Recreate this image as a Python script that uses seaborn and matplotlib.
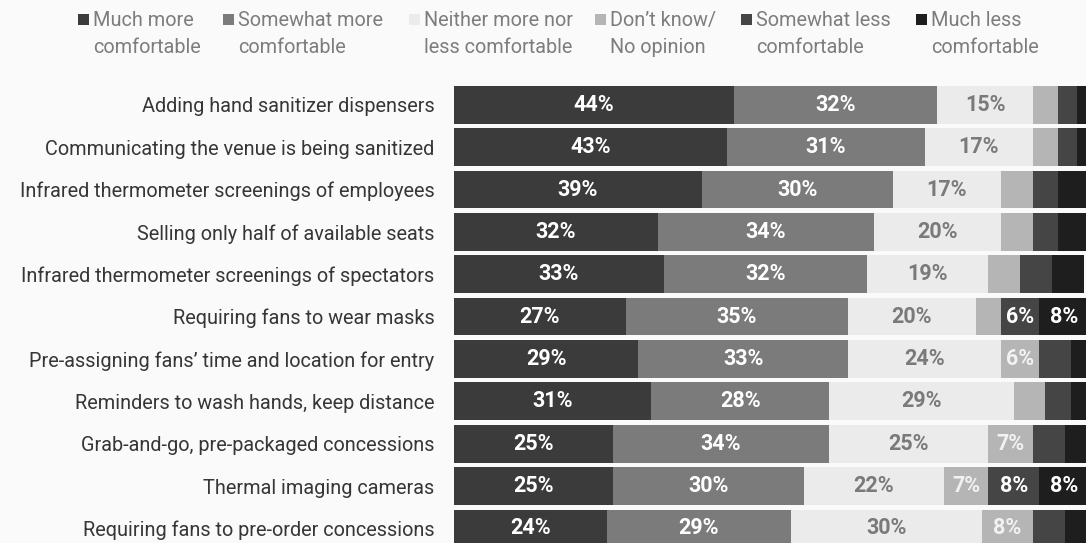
import matplotlib
matplotlib.use("Agg")
import matplotlib.pyplot as plt
from matplotlib.patches import Rectangle
import numpy as np
import pandas as pd
import seaborn as sns

# Survey items, top to bottom
items = [
    "Adding hand sanitizer dispensers",
    "Communicating the venue is being sanitized",
    "Infrared thermometer screenings of employees",
    "Selling only half of available seats",
    "Infrared thermometer screenings of spectators",
    "Requiring fans to wear masks",
    "Pre-assigning fans\u2019 time and location for entry",
    "Reminders to wash hands, keep distance",
    "Grab-and-go, pre-packaged concessions",
    "Thermal imaging cameras",
    "Requiring fans to pre-order concessions",
]

# Share of respondents (%) for each answer
much_more     = [44, 43, 39, 32, 33, 27, 29, 31, 25, 25, 24]
somewhat_more = [32, 31, 30, 34, 32, 35, 33, 28, 34, 30, 29]
neither       = [15, 17, 17, 20, 19, 20, 24, 29, 25, 22, 30]
dont_know     = [4, 4, 5, 5, 5, 4, 6, 5, 7, 7, 8]
somewhat_less = [3, 3, 4, 4, 5, 6, 5, 4, 5, 8, 5]
much_less     = [2, 2, 5, 5, 5, 8, 3, 3, 4, 8, 4]

legend_lines = [
    ("Much more", "comfortable"),
    ("Somewhat more", "comfortable"),
    ("Neither more nor", "less comfortable"),
    ("Don\u2019t know/", "No opinion"),
    ("Somewhat less", "comfortable"),
    ("Much less", "comfortable"),
]

series = [much_more, somewhat_more, neither, dont_know, somewhat_less, much_less]
colors = ["#3b3b3b", "#7b7b7b", "#ebebeb", "#b5b5b5", "#454545", "#1e1e1e"]
text_colors = ["#ffffff", "#ffffff", "#7a7a7a", "#f2f2f2", "#ffffff", "#ffffff"]

df = pd.DataFrame(np.array(series).T, index=items,
                  columns=[" ".join(l) for l in legend_lines])
cum = df.cumsum(axis=1)

sns.set_theme(style="white")
plt.rcParams["font.family"] = ["Roboto", "DejaVu Sans"]

bg = "#fafafa"
fig = plt.figure(figsize=(10.86, 5.43), dpi=100, facecolor=bg)
ax = fig.add_axes([454 / 1086, -0.012, 636 / 1086, 0.8577])
ax.set_facecolor(bg)

# Stacked bars: draw cumulative totals from the widest down so each layer shows
for j in range(len(series) - 1, -1, -1):
    sns.barplot(x=cum.iloc[:, j].values, y=items, orient="h", color=colors[j],
                saturation=1, width=0.89, linewidth=0, ax=ax)

# Value labels for segments of 6% and up
for j, col in enumerate(df.columns):
    starts = cum.iloc[:, j] - df[col]
    for i, v in enumerate(df[col]):
        if v >= 6:
            ax.text(starts.iloc[i] + v / 2, i, f"{v}%", ha="center", va="center",
                    color=text_colors[j], fontsize=15.5, fontweight="bold")

ax.set_xlim(0, 100)
ax.set_ylim(10.5, -0.5)
ax.set_xlabel("")
ax.set_ylabel("")
ax.set_xticks([])
ax.tick_params(axis="y", length=0, pad=14, labelsize=14.35, labelcolor="#363636")
for s in ax.spines.values():
    s.set_visible(False)

# Legend across the top
text_x = [93, 238, 424, 610, 756, 931]
W, H = 1086, 543
for (l1, l2), tx, c in zip(legend_lines, text_x, colors):
    fig.patches.append(Rectangle(((tx - 15) / W, 1 - 25 / H), 11 / W, 11 / H,
                                 transform=fig.transFigure, facecolor=c,
                                 edgecolor="none"))
    fig.text(tx / W, 1 - 26 / H, l1, ha="left", va="baseline",
             fontsize=14.3, color="#7d7d7d")
    fig.text(tx / W, 1 - 53 / H, l2, ha="left", va="baseline",
             fontsize=14.3, color="#7d7d7d")

fig.savefig("out.png", dpi=100, facecolor=bg)
